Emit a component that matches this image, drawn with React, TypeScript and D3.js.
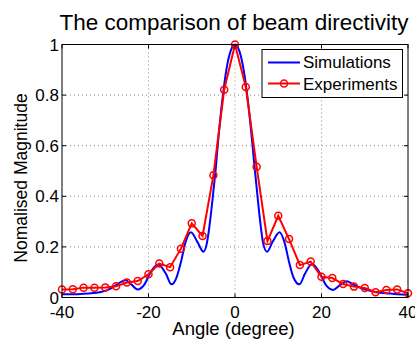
import React from "react";
import * as d3 from "d3";

const simAngles = [-40, -37, -34, -31, -29, -27, -25.3, -24, -22.5, -21, -19.5, -17.8, -16, -14.7, -13.5, -12.5, -11.5, -10.2, -8.7, -7.3, -6.5, -6, -5.5, -5, -4.5, -4, -3, -2, -1, 0, 1, 2, 3, 4, 4.5, 5, 5.5, 6, 6.5, 7.4, 8.7, 10.3, 11.5, 12.5, 13.5, 14.9, 16.2, 17.8, 19.5, 21, 22.7, 24.2, 25.8, 27.5, 30.4, 33, 35, 37.5, 40];
const simValues = [0.013, 0.013, 0.016, 0.022, 0.033, 0.055, 0.068, 0.052, 0.032, 0.05, 0.1, 0.13, 0.095, 0.052, 0.08, 0.14, 0.215, 0.258, 0.22, 0.181, 0.215, 0.27, 0.34, 0.42, 0.5, 0.6, 0.77, 0.9, 0.975, 1.0, 0.975, 0.9, 0.775, 0.61, 0.52, 0.435, 0.35, 0.275, 0.215, 0.181, 0.22, 0.258, 0.215, 0.14, 0.08, 0.052, 0.095, 0.132, 0.1, 0.05, 0.03, 0.048, 0.064, 0.05, 0.03, 0.02, 0.017, 0.013, 0.011];

const expAngles = [-40, -37.5, -35, -32.5, -30, -27.5, -25, -22.5, -20, -17.5, -15, -12.5, -10, -7.5, -5, -2.5, 0, 2.5, 5, 7.5, 10, 12.5, 15, 17.5, 20, 22.5, 25, 27.5, 30, 32.5, 35, 37.5, 40];
const expValues = [0.032, 0.033, 0.039, 0.039, 0.04, 0.044, 0.059, 0.065, 0.092, 0.134, 0.12, 0.193, 0.293, 0.243, 0.483, 0.821, 1.0, 0.832, 0.517, 0.223, 0.323, 0.231, 0.128, 0.142, 0.082, 0.077, 0.053, 0.043, 0.038, 0.021, 0.03, 0.032, 0.017];

const xTicks = [-40, -20, 0, 20, 40];
const yTicks = [0, 0.2, 0.4, 0.6, 0.8, 1];
const yTickLabels = ["0", "0.2", "0.4", "0.6", "0.8", "1"];
const seriesNames = ["Simulations", "Experiments"];
const titleText = "The comparison of beam directivity";
const xLabel = "Angle (degree)";
const yLabel = "Nomalised Magnitude";

const W = 415, H = 340;
const L = 62, R = 408, T = 44.5, B = 297.5;
const FONT = "'Liberation Sans', Arial, Helvetica, sans-serif";

export default function App() {
  const x = d3.scaleLinear().domain([-40, 40]).range([L, R]);
  const y = d3.scaleLinear().domain([0, 1]).range([B, T]);

  const simPts: [number, number][] = simAngles.map((a, i) => [a, simValues[i]]);
  const expPts: [number, number][] = expAngles.map((a, i) => [a, expValues[i]]);

  const simLine = d3.line<[number, number]>().x(d => x(d[0])).y(d => y(d[1])).curve(d3.curveMonotoneX)(simPts) || "";
  const expLine = d3.line<[number, number]>().x(d => x(d[0])).y(d => y(d[1]))(expPts) || "";

  const tickLen = 4;
  const gridStyle = { stroke: "#8a8a8a", strokeWidth: 1, strokeDasharray: "1,3" };

  return (
    <svg width={W} height={H} style={{ position: "absolute", left: 0, top: 0, background: "#fff" }} fontFamily={FONT}>
      <rect x={0} y={0} width={W} height={H} fill="#fff" />
      {/* grid */}
      {xTicks.slice(1, -1).map(t => (
        <line key={"gx" + t} x1={x(t)} x2={x(t)} y1={T} y2={B} {...gridStyle} />
      ))}
      {yTicks.slice(1, -1).map(t => (
        <line key={"gy" + t} x1={L} x2={R} y1={y(t)} y2={y(t)} {...gridStyle} />
      ))}
      {/* series */}
      <path d={simLine} fill="none" stroke="#0000ff" strokeWidth={2} />
      <path d={expLine} fill="none" stroke="#ff0000" strokeWidth={2} />
      {expPts.map((p, i) => (
        <circle key={"m" + i} cx={x(p[0])} cy={y(p[1])} r={3.5} fill="none" stroke="#ff0000" strokeWidth={1.5} />
      ))}
      {/* axes box */}
      <rect x={L} y={T} width={R - L} height={B - T} fill="none" stroke="#000" strokeWidth={1} />
      {xTicks.map(t => (
        <g key={"xt" + t}>
          <line x1={x(t)} x2={x(t)} y1={B} y2={B - tickLen} stroke="#000" />
          <line x1={x(t)} x2={x(t)} y1={T} y2={T + tickLen} stroke="#000" />
          <text x={x(t)} y={317.5} textAnchor="middle" fontSize={17}>{t}</text>
        </g>
      ))}
      {yTicks.map((t, i) => (
        <g key={"yt" + t}>
          <line x1={L} x2={L + tickLen} y1={y(t)} y2={y(t)} stroke="#000" />
          <line x1={R} x2={R - tickLen} y1={y(t)} y2={y(t)} stroke="#000" />
          <text x={59} y={y(t)} dy="0.36em" textAnchor="end" fontSize={17}>{yTickLabels[i]}</text>
        </g>
      ))}
      {/* labels */}
      <text x={234} y={30} textAnchor="middle" fontSize={22.5}>{titleText}</text>
      <text x={233.5} y={335} textAnchor="middle" fontSize={18.5}>{xLabel}</text>
      <text transform={`translate(26.5,178) rotate(-90)`} textAnchor="middle" fontSize={17.5}>{yLabel}</text>
      {/* legend */}
      <rect x={262} y={49.5} width={140.5} height={48} fill="#fff" stroke="#000" strokeWidth={1} />
      <line x1={268} x2={300} y1={62.5} y2={62.5} stroke="#0000ff" strokeWidth={2} />
      <line x1={268} x2={300} y1={83.5} y2={83.5} stroke="#ff0000" strokeWidth={2} />
      <circle cx={284} cy={83.5} r={3.5} fill="none" stroke="#ff0000" strokeWidth={1.5} />
      <text x={303} y={67.5} fontSize={17}>{seriesNames[0]}</text>
      <text x={303} y={89.5} fontSize={17}>{seriesNames[1]}</text>
    </svg>
  );
}
